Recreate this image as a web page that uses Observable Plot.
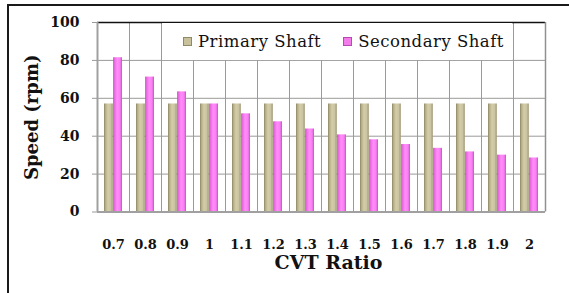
<!DOCTYPE html>
<html>
<head>
<meta charset="utf-8">
<script src="https://cdn.jsdelivr.net/npm/d3@7"></script>
<script src="https://cdn.jsdelivr.net/npm/@observablehq/plot@0.6"></script>
<style>
  html, body { margin: 0; padding: 0; background: #fff; }
  #wrap { position: relative; width: 569px; height: 293px; overflow: hidden; }
  #frame { position: absolute; left: 7px; top: 4px; width: 600px; height: 320px;
           border-top: 2px solid #1a1a1a; border-left: 2px solid #1a1a1a; box-sizing: border-box; pointer-events: none; }
  #legend { position: absolute; left: 162px; top: 23px; width: 350px; height: 37px; background: #fff;
            display: flex; align-items: center; font-family: "DejaVu Serif", serif; font-size: 16.5px;
            letter-spacing: 0.5px; color: #111; }
  .sw { width: 9px; height: 9px; margin-right: 6px; box-sizing: border-box; }
  .item { display: flex; align-items: center; }
</style>
</head>
<body>
<div id="wrap"><div id="frame"></div></div>
<script>
const ratios = ["0.7","0.8","0.9","1","1.1","1.2","1.3","1.4","1.5","1.6","1.7","1.8","1.9","2"];
const primary = [57, 57, 57, 57, 57, 57, 57, 57, 57, 57, 57, 57, 57, 57];
const secondary = [81.4, 71.2, 63.4, 57, 51.8, 47.6, 43.8, 40.7, 38.1, 35.6, 33.6, 31.7, 30, 28.5];
const seriesNames = ["Primary Shaft", "Secondary Shaft"];
const yTicks = [0, 20, 40, 60, 80, 100];

const dataP = ratios.map((r, i) => ({ratio: r, value: primary[i]}));
const dataS = ratios.map((r, i) => ({ratio: r, value: secondary[i]}));

const serif = "'DejaVu Serif', serif";

const chart = Plot.plot({
  width: 569,
  height: 293,
  marginLeft: 97,
  marginRight: 24,
  marginTop: 22,
  marginBottom: 81.5,
  style: {fontFamily: serif, background: "transparent", overflow: "visible"},
  x: {domain: ratios, padding: 0, type: "band"},
  y: {domain: [0, 100]},
  marks: [
    Plot.ruleY(yTicks.slice(1, -1), {stroke: "#9a9a9a", strokeWidth: 1}),
    Plot.ruleX(ratios.slice(1), {stroke: "#9a9a9a", strokeWidth: 1, dx: -16}),
    Plot.barY(dataP, {x: "ratio", y: "value", fill: "url(#gP)", insetLeft: 7, insetRight: 16.2}),
    Plot.barY(dataS, {x: "ratio", y: "value", fill: "url(#gS)", insetLeft: 16.2, insetRight: 7}),
    Plot.ruleY([100], {stroke: "#111", strokeWidth: 1.5}),
    Plot.ruleY([0], {stroke: "#a0a0a0", strokeWidth: 2}),
    Plot.ruleX([ratios[0]], {stroke: "#a0a0a0", strokeWidth: 2, dx: -16}),
    Plot.ruleX([ratios[ratios.length - 1]], {stroke: "#909090", strokeWidth: 1.5, dx: 16}),
    Plot.axisY({ticks: yTicks, tickSize: 5, tickPadding: 13, stroke: "#9a9a9a", fill: "#111",
                fontSize: 14, fontWeight: "bold", label: null}),
    Plot.axisX({tickSize: 0, tickPadding: 28, fill: "#111", fontSize: 13, fontWeight: "bold", label: null}),
    Plot.text(["Speed (rpm)"], {frameAnchor: "left", textAnchor: "middle", lineAnchor: "middle",
                                dx: -65, rotate: -90, fontSize: 18, fontWeight: "bold", fill: "#111"}),
    Plot.text(["CVT Ratio"], {frameAnchor: "bottom", textAnchor: "middle", lineAnchor: "middle",
                              dx: 7, dy: 51, fontSize: 19, fontWeight: "bold", fill: "#111"})
  ]
});

const svg = d3.select(chart);
const defs = svg.insert("defs", ":first-child");
function grad(id, stops) {
  const g = defs.append("linearGradient").attr("id", id).attr("x1", "0").attr("x2", "1").attr("y1", "0").attr("y2", "0");
  stops.forEach(([o, c]) => g.append("stop").attr("offset", o).attr("stop-color", c));
}
grad("gP", [[0, "#8c8663"], [0.18, "#b8b08a"], [0.45, "#d3cca8"], [0.75, "#ccc4a0"], [1, "#9d9672"]]);
grad("gS", [[0, "#b444ae"], [0.15, "#e86ae2"], [0.45, "#ff8ef9"], [0.78, "#f97ef2"], [1, "#c452be"]]);
svg.selectAll("text").style("font-family", serif);

const wrap = document.getElementById("wrap");
wrap.insertBefore(chart, wrap.firstChild);

const colors = ["#c9c19b", "#f27ce9"];
const borders = ["#8f8966", "#b848b2"];
const legend = document.createElement("div");
legend.id = "legend";
seriesNames.forEach((name, i) => {
  const item = document.createElement("div");
  item.className = "item";
  item.style.marginLeft = i === 0 ? "21px" : "22px";
  const sw = document.createElement("div");
  sw.className = "sw";
  sw.style.background = colors[i];
  sw.style.border = "1px solid " + borders[i];
  const t = document.createElement("span");
  t.textContent = name;
  item.appendChild(sw);
  item.appendChild(t);
  legend.appendChild(item);
});
wrap.appendChild(legend);
</script>
</body>
</html>
